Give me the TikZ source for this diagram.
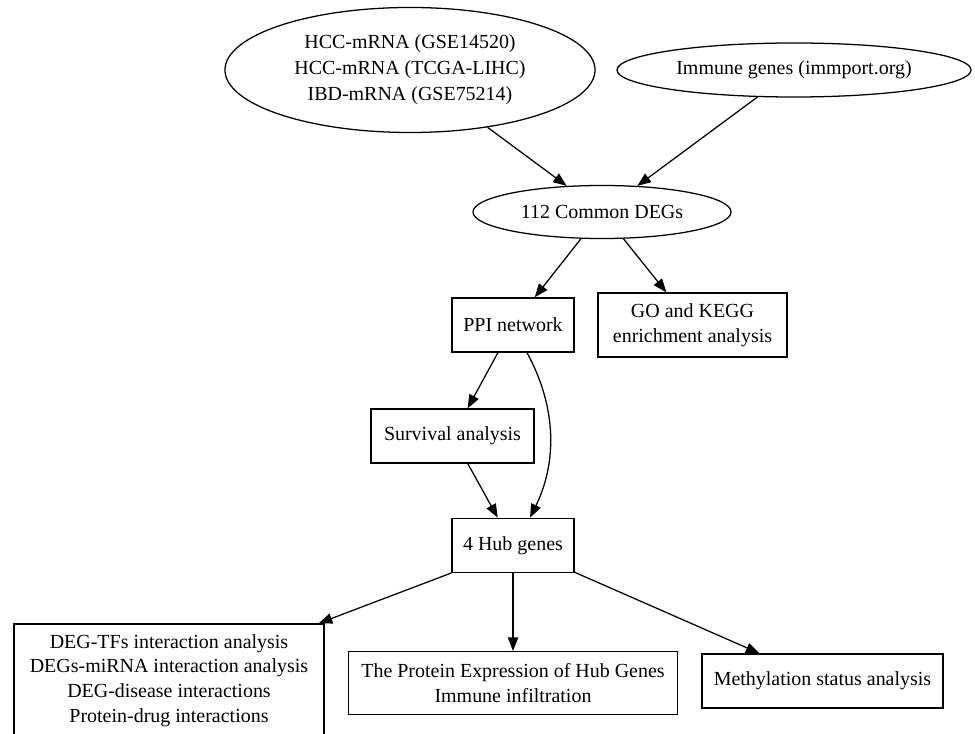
\documentclass[tikz,border=0pt]{standalone}
\usepackage{fontspec}
\setmainfont{Liberation Serif}
\usetikzlibrary{arrows.meta,positioning,shapes.geometric}

\begin{document}
\begin{tikzpicture}[
  x=0.025cm,
  y=-0.025cm,
  source/.style={
    draw,
    ellipse,
    inner sep=0pt,
    line width=0.9pt,
    align=center,
    font=\fontsize{14.2}{18.5}\selectfont
  },
  stage/.style={
    draw,
    inner sep=0pt,
    line width=0.9pt,
    align=center,
    font=\fontsize{14.2}{17.5}\selectfont
  },
  arrow/.style={-{Triangle[length=3.4mm,width=2.6mm]},line width=0.9pt}
]
  \fill[white] (0,0) rectangle (975,734);
  \useasboundingbox (0,0) rectangle (975,734);
  \node[source,minimum width=9.25cm,minimum height=3.125cm] (datasets) at (410,70) {HCC-mRNA (GSE14520)\\HCC-mRNA (TCGA-LIHC)\\IBD-mRNA (GSE75214)};
  \node[source,minimum width=8.85cm,minimum height=1.35cm] (immune) at (794,70) {Immune genes (immport.org)};
  \node[source,minimum width=6.45cm,minimum height=1.325cm] (common) at (602,212) {112 Common DEGs};
  \node[stage,minimum width=3.05cm,minimum height=1.35cm] (ppi) at (513,325) {PPI network};
  \node[stage,minimum width=4.725cm,minimum height=1.6cm] (enrich) at (692.5,325) {GO and KEGG\\enrichment analysis};
  \node[stage,minimum width=4.075cm,minimum height=1.35cm] (survival) at (452.5,436) {Survival analysis};
  \node[stage,minimum width=3.05cm,minimum height=1.35cm,below=4.125cm of ppi] (hub) {4 Hub genes};
  \node[stage,minimum width=8.225cm,minimum height=1.575cm,below=1.95cm of hub] (protein) {The Protein Expression of Hub Genes\\Immune infiltration};
  \node[stage,minimum width=7.75cm,minimum height=2.825cm] (interact) at (169,680.5) {DEG-TFs interaction analysis\\DEGs-miRNA interaction analysis\\DEG-disease interactions\\Protein-drug interactions};
  \node[stage,minimum width=6.025cm,minimum height=1.35cm] (methyl) at (822.5,681) {Methylation status analysis};
  \draw[arrow] (datasets) -- (common);
  \draw[arrow] (immune) -- (common);
  \draw[arrow] (common) -- (ppi);
  \draw[arrow] (common) -- (enrich);
  \draw[arrow] (ppi) -- (survival);
  \draw[arrow] (survival) -- (hub);
  \draw[arrow] ([xshift=0.35cm]ppi.south) .. controls +(30,55) and +(27,-55) .. ([xshift=0.425cm]hub.north);
  \draw[arrow] (hub.south west) -- ([xshift=-0.15cm]interact.north east);
  \draw[arrow] (hub) -- (protein);
  \draw[arrow] (hub) -- (methyl);
\end{tikzpicture}
\end{document}
